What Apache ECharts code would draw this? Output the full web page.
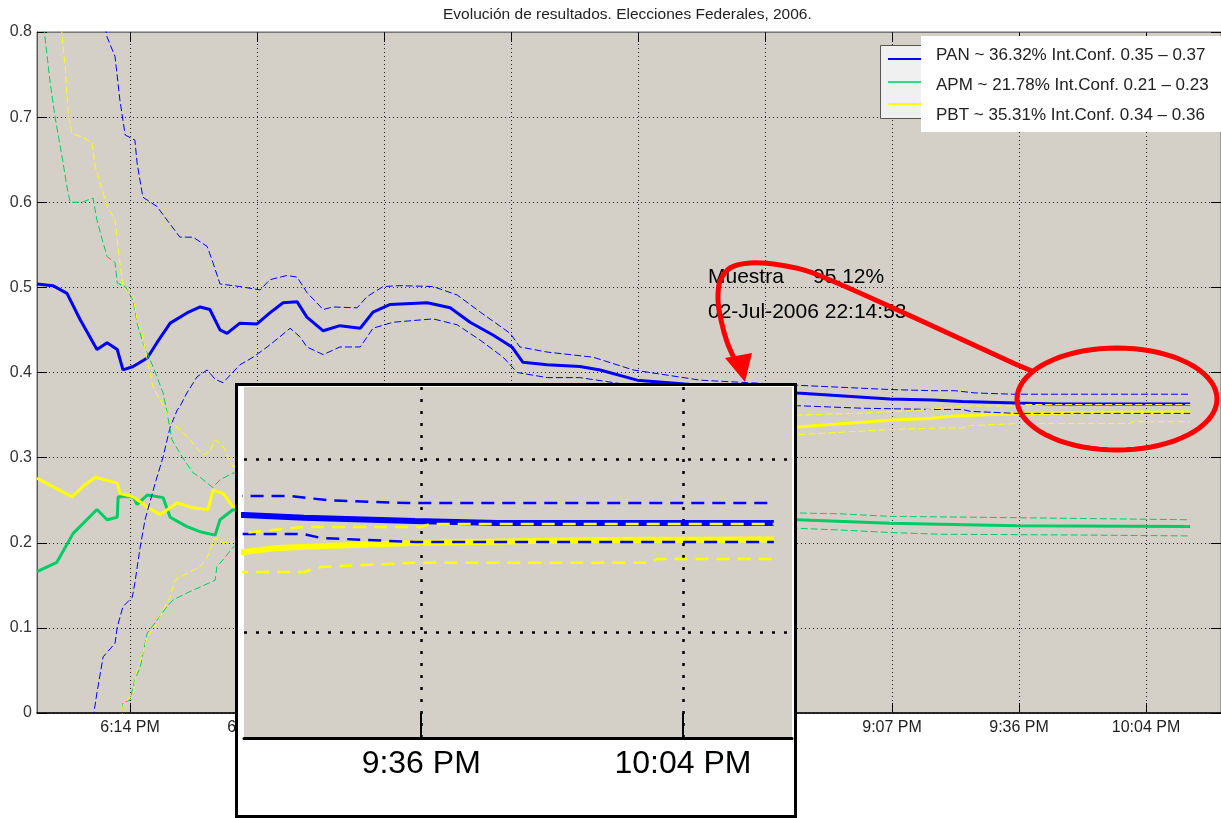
<!DOCTYPE html>
<html><head><meta charset="utf-8">
<script src="https://cdn.jsdelivr.net/npm/echarts@6/dist/echarts.min.js"></script>
<style>html,body{margin:0;padding:0;background:#fff}#c{width:1221px;height:818px}</style>
</head><body><div id="c"></div>
<script>
const FONT = '"Liberation Sans", Arial, Helvetica, sans-serif';
const chartTitle = 'Evolución de resultados. Elecciones Federales, 2006.';
const legendLabels = ['PAN ~ 36.32% Int.Conf. 0.35 – 0.37', 'APM ~ 21.78% Int.Conf. 0.21 – 0.23', 'PBT ~ 35.31% Int.Conf. 0.34 – 0.36'];
const partyColors = ['#0000ff', '#00cc66', '#ffff00'];
const noteSample = 'Muestra', notePct = '95.12%', noteDate = '02-Jul-2006 22:14:53';

// time = minutes after midnight (2 Jul 2006); ticks every 0.02 day = 28.8 min
const mainRange = [1073.3, 1341.8];
const mainTicks = [1094.4, 1123.2, 1152.0, 1180.8, 1209.6, 1238.4, 1267.2, 1296.0, 1324.8];
const insetRange = [1276.5, 1336.8];
const insetYRange = [0.2387, 0.4416];
const insetTicks = [1296.0, 1324.8];
const insetGridY = [0.3, 0.4];

const panMean = [[1073.3,0.504],[1076.9,0.502],[1080.1,0.493],[1083.1,0.462],[1086.9,0.427],[1089.2,0.435],[1091.5,0.427],[1092.8,0.403],[1095.1,0.407],[1098.3,0.417],[1100.5,0.435],[1103.5,0.458],[1107.3,0.470],[1110.3,0.477],[1112.5,0.474],[1114.8,0.450],[1116.4,0.446],[1119.3,0.458],[1123.2,0.457],[1126.1,0.470],[1129.1,0.482],[1132.3,0.483],[1134.5,0.465],[1138.2,0.449],[1142.0,0.455],[1146.6,0.452],[1149.5,0.471],[1153.4,0.480],[1161.8,0.482],[1167.0,0.476],[1171.5,0.459],[1176.7,0.444],[1181.0,0.430],[1183.5,0.412],[1189.0,0.409],[1196.4,0.407],[1201.0,0.403],[1209.4,0.391],[1223.7,0.385],[1237.3,0.380],[1245.7,0.376],[1266.7,0.369],[1276.5,0.3676],[1283.1,0.3660],[1295.3,0.3642],[1304.4,0.3630],[1334.8,0.3630]];
const panUpper = [[1088.0,0.830],[1089.2,0.794],[1091.0,0.771],[1092.1,0.720],[1093.3,0.679],[1095.5,0.673],[1096.0,0.646],[1097.3,0.606],[1100.5,0.595],[1102.8,0.579],[1105.7,0.559],[1108.7,0.559],[1111.9,0.548],[1113.2,0.529],[1114.8,0.504],[1119.3,0.501],[1123.9,0.497],[1126.1,0.509],[1130.0,0.514],[1132.3,0.512],[1134.5,0.494],[1138.2,0.474],[1140.4,0.477],[1145.9,0.476],[1148.1,0.489],[1151.8,0.501],[1155.6,0.502],[1163.1,0.501],[1168.6,0.491],[1173.8,0.471],[1180.6,0.446],[1182.8,0.430],[1189.0,0.424],[1199.4,0.418],[1208.5,0.403],[1223.7,0.391],[1245.7,0.385],[1266.7,0.380],[1276.5,0.3786],[1281.5,0.3786],[1286.0,0.3760],[1294.6,0.3745],[1334.8,0.3745]];
const panLower = [[1085.6,-0.030],[1086.2,0.000],[1086.9,0.024],[1088.3,0.066],[1091.0,0.082],[1091.5,0.101],[1092.8,0.125],[1094.9,0.136],[1095.5,0.153],[1096.7,0.195],[1097.8,0.227],[1100.1,0.270],[1101.9,0.301],[1103.5,0.336],[1105.1,0.356],[1105.7,0.360],[1107.3,0.376],[1109.6,0.395],[1111.9,0.403],[1113.7,0.392],[1115.5,0.388],[1119.3,0.409],[1122.3,0.418],[1125.5,0.430],[1128.4,0.442],[1130.7,0.452],[1132.9,0.442],[1134.5,0.430],[1138.2,0.421],[1142.0,0.430],[1146.6,0.430],[1149.5,0.452],[1154.0,0.459],[1163.1,0.463],[1168.6,0.456],[1173.8,0.438],[1179.0,0.418],[1182.2,0.400],[1189.0,0.394],[1196.4,0.394],[1209.4,0.384],[1223.7,0.372],[1245.7,0.361],[1260.6,0.358],[1276.5,0.3566],[1283.1,0.3566],[1285.0,0.3543],[1295.3,0.3520],[1334.8,0.3520]];
const apmMean = [[1073.3,0.166],[1077.8,0.177],[1081.5,0.211],[1086.9,0.239],[1089.2,0.227],[1091.5,0.230],[1091.7,0.254],[1095.1,0.254],[1096.0,0.245],[1098.3,0.256],[1101.9,0.253],[1103.5,0.230],[1107.3,0.219],[1110.3,0.213],[1113.7,0.209],[1114.8,0.227],[1117.8,0.239],[1140.0,0.236],[1180.0,0.232],[1220.0,0.229],[1245.7,0.227],[1266.7,0.223],[1295.5,0.220],[1334.8,0.219]];
const apmUpper = [[1074.6,0.830],[1075.1,0.794],[1076.3,0.740],[1077.4,0.700],[1079.0,0.653],[1080.1,0.618],[1080.8,0.600],[1083.5,0.600],[1086.0,0.605],[1086.9,0.579],[1088.1,0.556],[1089.2,0.536],[1091.0,0.529],[1091.5,0.505],[1093.3,0.501],[1095.1,0.485],[1096.0,0.458],[1097.3,0.435],[1099.6,0.407],[1101.9,0.376],[1102.8,0.353],[1103.9,0.321],[1106.2,0.301],[1108.7,0.282],[1110.3,0.277],[1111.9,0.270],[1113.2,0.265],[1114.8,0.274],[1117.8,0.282],[1150.0,0.262],[1200.0,0.246],[1245.7,0.235],[1255.4,0.234],[1266.7,0.231],[1285.6,0.230],[1334.8,0.227]];
const apmLower = [[1092.3,-0.020],[1092.8,0.012],[1094.4,0.015],[1095.5,0.039],[1096.7,0.054],[1098.3,0.094],[1100.5,0.109],[1102.8,0.125],[1104.2,0.133],[1107.3,0.141],[1110.3,0.148],[1113.7,0.156],[1114.1,0.172],[1115.5,0.180],[1117.8,0.195],[1150.0,0.205],[1200.0,0.213],[1245.7,0.217],[1255.4,0.215],[1266.7,0.212],[1278.1,0.210],[1312.1,0.209],[1334.8,0.208]];
const pbtMean = [[1073.3,0.276],[1076.9,0.266],[1081.2,0.254],[1083.7,0.266],[1086.5,0.277],[1091.5,0.270],[1092.1,0.258],[1095.1,0.254],[1098.3,0.242],[1101.2,0.233],[1105.1,0.247],[1108.7,0.241],[1112.1,0.239],[1113.2,0.262],[1115.5,0.258],[1117.8,0.242],[1140.0,0.270],[1180.0,0.310],[1220.0,0.328],[1245.7,0.336],[1266.7,0.344],[1276.5,0.3462],[1280.3,0.3486],[1288.4,0.3503],[1295.3,0.3514],[1315.3,0.3532],[1334.8,0.3535]];
const pbtUpper = [[1078.6,0.830],[1079.0,0.794],[1079.7,0.759],[1080.3,0.709],[1081.2,0.681],[1083.7,0.676],[1085.8,0.670],[1086.5,0.642],[1087.6,0.623],[1089.2,0.595],[1091.0,0.579],[1091.5,0.556],[1092.1,0.529],[1092.8,0.501],[1095.1,0.489],[1096.0,0.462],[1097.1,0.446],[1098.3,0.415],[1099.6,0.383],[1101.2,0.368],[1103.9,0.341],[1105.7,0.333],[1108.0,0.321],[1110.9,0.303],[1112.5,0.307],[1113.7,0.321],[1115.5,0.313],[1117.8,0.289],[1150.0,0.312],[1200.0,0.340],[1245.7,0.350],[1259.3,0.352],[1274.2,0.356],[1283.0,0.3607],[1296.0,0.3607],[1297.0,0.3624],[1334.8,0.3624]];
const pbtLower = [[1092.3,-0.020],[1092.8,0.009],[1095.1,0.024],[1096.0,0.050],[1097.3,0.070],[1098.3,0.089],[1100.5,0.105],[1101.9,0.121],[1103.5,0.136],[1104.6,0.156],[1107.3,0.164],[1110.3,0.172],[1111.9,0.183],[1113.7,0.206],[1115.5,0.200],[1117.8,0.201],[1150.0,0.250],[1200.0,0.300],[1245.7,0.327],[1266.7,0.333],[1276.5,0.3347],[1283.1,0.3347],[1285.0,0.3376],[1295.3,0.3400],[1321.0,0.3400],[1322.0,0.3422],[1334.8,0.3422]];

function fmtTime(v) {
  const h = Math.floor(v / 60 + 1e-9);
  const m = Math.floor(v - h * 60 + 1e-6);
  return (h > 12 ? h - 12 : h) + ':' + String(m).padStart(2, '0') + ' PM';
}

const lines = [
  [panMean, 0, false], [apmMean, 1, false], [pbtMean, 2, false],
  [panUpper, 0, true], [panLower, 0, true],
  [apmUpper, 1, true], [apmLower, 1, true],
  [pbtUpper, 2, true], [pbtLower, 2, true]
];
const series = [];
// main-chart vertical dotted grid lines at the tick times
series.push({type:'line', data:[[mainTicks[0], -1]], xAxisIndex:0, yAxisIndex:0, symbol:'none', silent:true, animation:false, z:1,
  markLine:{z:1, silent:true, symbol:['none','none'], animation:false, label:{show:false},
    lineStyle:{type:[1,3], color:'#222', width:1},
    data: mainTicks.map(v => ({xAxis:v}))}});
lines.forEach(([d, ci, dashed]) => {
  series.push({type:'line', data:d, xAxisIndex:0, yAxisIndex:0, symbol:'none', silent:true, animation:false, z:2,
    lineStyle:{color:partyColors[ci], width: dashed ? 1 : 3, type: dashed ? [7,3] : 'solid'}});
});
// inset dotted grid
series.push({type:'line', data:[[insetTicks[0], 0]], xAxisIndex:2, yAxisIndex:2, symbol:'none', silent:true, animation:false, z:101,
  markLine:{z:101, silent:true, symbol:['none','none'], animation:false, label:{show:false},
    lineStyle:{type:[3,9], color:'#000', width:2.5},
    data: insetGridY.map(v => ({yAxis:v})).concat(insetTicks.map(v => ({xAxis:v})))}});
lines.forEach(([d, ci, dashed]) => {
  series.push({type:'line', data:d, xAxisIndex:2, yAxisIndex:2, symbol:'none', silent:true, animation:false, z:102,
    lineStyle:{color:partyColors[ci], width: dashed ? 2.5 : 6, type: dashed ? [13,8] : 'solid'}});
});

const arrowPts = [[1032,371],[1013,363],[913,317],[813,273],[780,265],[750,263],[730,268],[720,281],[718,300],[721,320],[727,342],[734,358]];
const ellipsePts = [];
for (let i = 0; i < 72; i++) { const a = i / 72 * Math.PI * 2; ellipsePts.push([1117 + 100 * Math.cos(a), 399 + 51 * Math.sin(a)]); }

const graphic = [
  {type:'rect', z:99, shape:{x:236.5, y:384.5, width:559, height:432}, style:{fill:'#fff', stroke:'#000', lineWidth:3}},
  {type:'rect', z:50, shape:{x:880.5, y:45.5, width:340, height:73}, style:{fill:'#f0f0f0', stroke:'#555', lineWidth:1}},
  {type:'line', z:51, shape:{x1:888, y1:59, x2:922, y2:59}, style:{stroke:partyColors[0], lineWidth:2}},
  {type:'line', z:51, shape:{x1:888, y1:82, x2:922, y2:82}, style:{stroke:partyColors[1], lineWidth:1.5}},
  {type:'line', z:51, shape:{x1:888, y1:104, x2:922, y2:104}, style:{stroke:partyColors[2], lineWidth:2}},
  {type:'rect', z:52, shape:{x:921, y:36, width:300, height:96}, style:{fill:'#fff'}},
  {type:'text', z:53, x:936, y:55, style:{text:legendLabels[0], font:'17px ' + FONT, fill:'#222', textVerticalAlign:'middle'}},
  {type:'text', z:53, x:936, y:85, style:{text:legendLabels[1], font:'17px ' + FONT, fill:'#222', textVerticalAlign:'middle'}},
  {type:'text', z:53, x:936, y:115, style:{text:legendLabels[2], font:'17px ' + FONT, fill:'#222', textVerticalAlign:'middle'}},
  {type:'text', z:53, x:708, y:277, style:{text:noteSample, font:'21px ' + FONT, fill:'#000', textVerticalAlign:'middle'}},
  {type:'text', z:53, x:813, y:277, style:{text:notePct, font:'21px ' + FONT, fill:'#000', textVerticalAlign:'middle'}},
  {type:'text', z:53, x:708, y:312, style:{text:noteDate, font:'21px ' + FONT, fill:'#000', textVerticalAlign:'middle'}},
  {type:'polygon', z:200, shape:{points:ellipsePts}, style:{fill:'none', stroke:'#ff0000', lineWidth:5}},
  {type:'polyline', z:200, shape:{points:arrowPts, smooth:0.3}, style:{fill:'none', stroke:'#ff0000', lineWidth:5}},
  {type:'polygon', z:200, shape:{points:[[725,358],[752,353],[745,382]]}, style:{fill:'#ff0000'}}
];

const chart = echarts.init(document.getElementById('c'), null, {renderer:'canvas'});
chart.setOption({
  animation:false,
  backgroundColor:'#fff',
  textStyle:{fontFamily:FONT},
  title:{text:chartTitle, left:443, top:7, padding:0, textStyle:{fontSize:15.5, fontWeight:'normal', color:'#222', fontFamily:FONT}},
  grid:[
    {left:37, top:32, width:1184, height:681, show:true, backgroundColor:'#d4d0c8', borderColor:'#666', borderWidth:1, containLabel:false, outerBoundsMode:'none'},
    {left:244, top:387, width:548, height:351, show:true, backgroundColor:'#d4d0c8', borderWidth:0, z:100, containLabel:false, outerBoundsMode:'none'}
  ],
  xAxis:[
    {gridIndex:0, type:'value', min:mainRange[0], max:mainRange[1], position:'bottom',
      axisLine:{show:true, onZero:false, lineStyle:{color:'#000', width:1.5}},
      axisTick:{show:true, inside:true, length:10, customValues:mainTicks, lineStyle:{color:'#000'}},
      axisLabel:{customValues:mainTicks, formatter:fmtTime, fontSize:16, color:'#222', margin:7, fontFamily:FONT},
      splitLine:{show:false}},
    {gridIndex:0, type:'value', min:mainRange[0], max:mainRange[1], position:'top',
      axisLine:{show:true, onZero:false, lineStyle:{color:'#777', width:1}},
      axisTick:{show:true, inside:true, length:10, customValues:mainTicks, lineStyle:{color:'#000'}},
      axisLabel:{show:false}, splitLine:{show:false}},
    {gridIndex:1, type:'value', min:insetRange[0], max:insetRange[1], position:'bottom', z:103,
      axisLine:{show:true, onZero:false, lineStyle:{color:'#000', width:3}},
      axisTick:{show:true, inside:true, length:25, customValues:insetTicks, lineStyle:{color:'#000', width:2}},
      axisLabel:{customValues:insetTicks, formatter:fmtTime, fontSize:32, color:'#000', margin:10, fontFamily:FONT},
      splitLine:{show:false}}
  ],
  yAxis:[
    {gridIndex:0, type:'value', min:0, max:0.8, interval:0.1, position:'left',
      axisLine:{show:true, onZero:false, lineStyle:{color:'#555', width:1}},
      axisTick:{show:true, inside:true, length:10, lineStyle:{color:'#000'}},
      axisLabel:{formatter:v => (Math.abs(v) < 1e-9 ? '0' : v.toFixed(1)), fontSize:16, color:'#333', margin:5, fontFamily:FONT},
      splitLine:{show:true, lineStyle:{type:[1,3], color:'#222', width:1}}},
    {gridIndex:0, type:'value', min:0, max:0.8, interval:0.1, position:'right',
      axisLine:{show:true, onZero:false, lineStyle:{color:'#777'}},
      axisTick:{show:true, inside:true, length:10, lineStyle:{color:'#000'}},
      axisLabel:{show:false}, splitLine:{show:false}},
    {gridIndex:1, type:'value', min:insetYRange[0], max:insetYRange[1], show:false, splitLine:{show:false}}
  ],
  series: series,
  graphic: graphic
});
</script></body></html>
